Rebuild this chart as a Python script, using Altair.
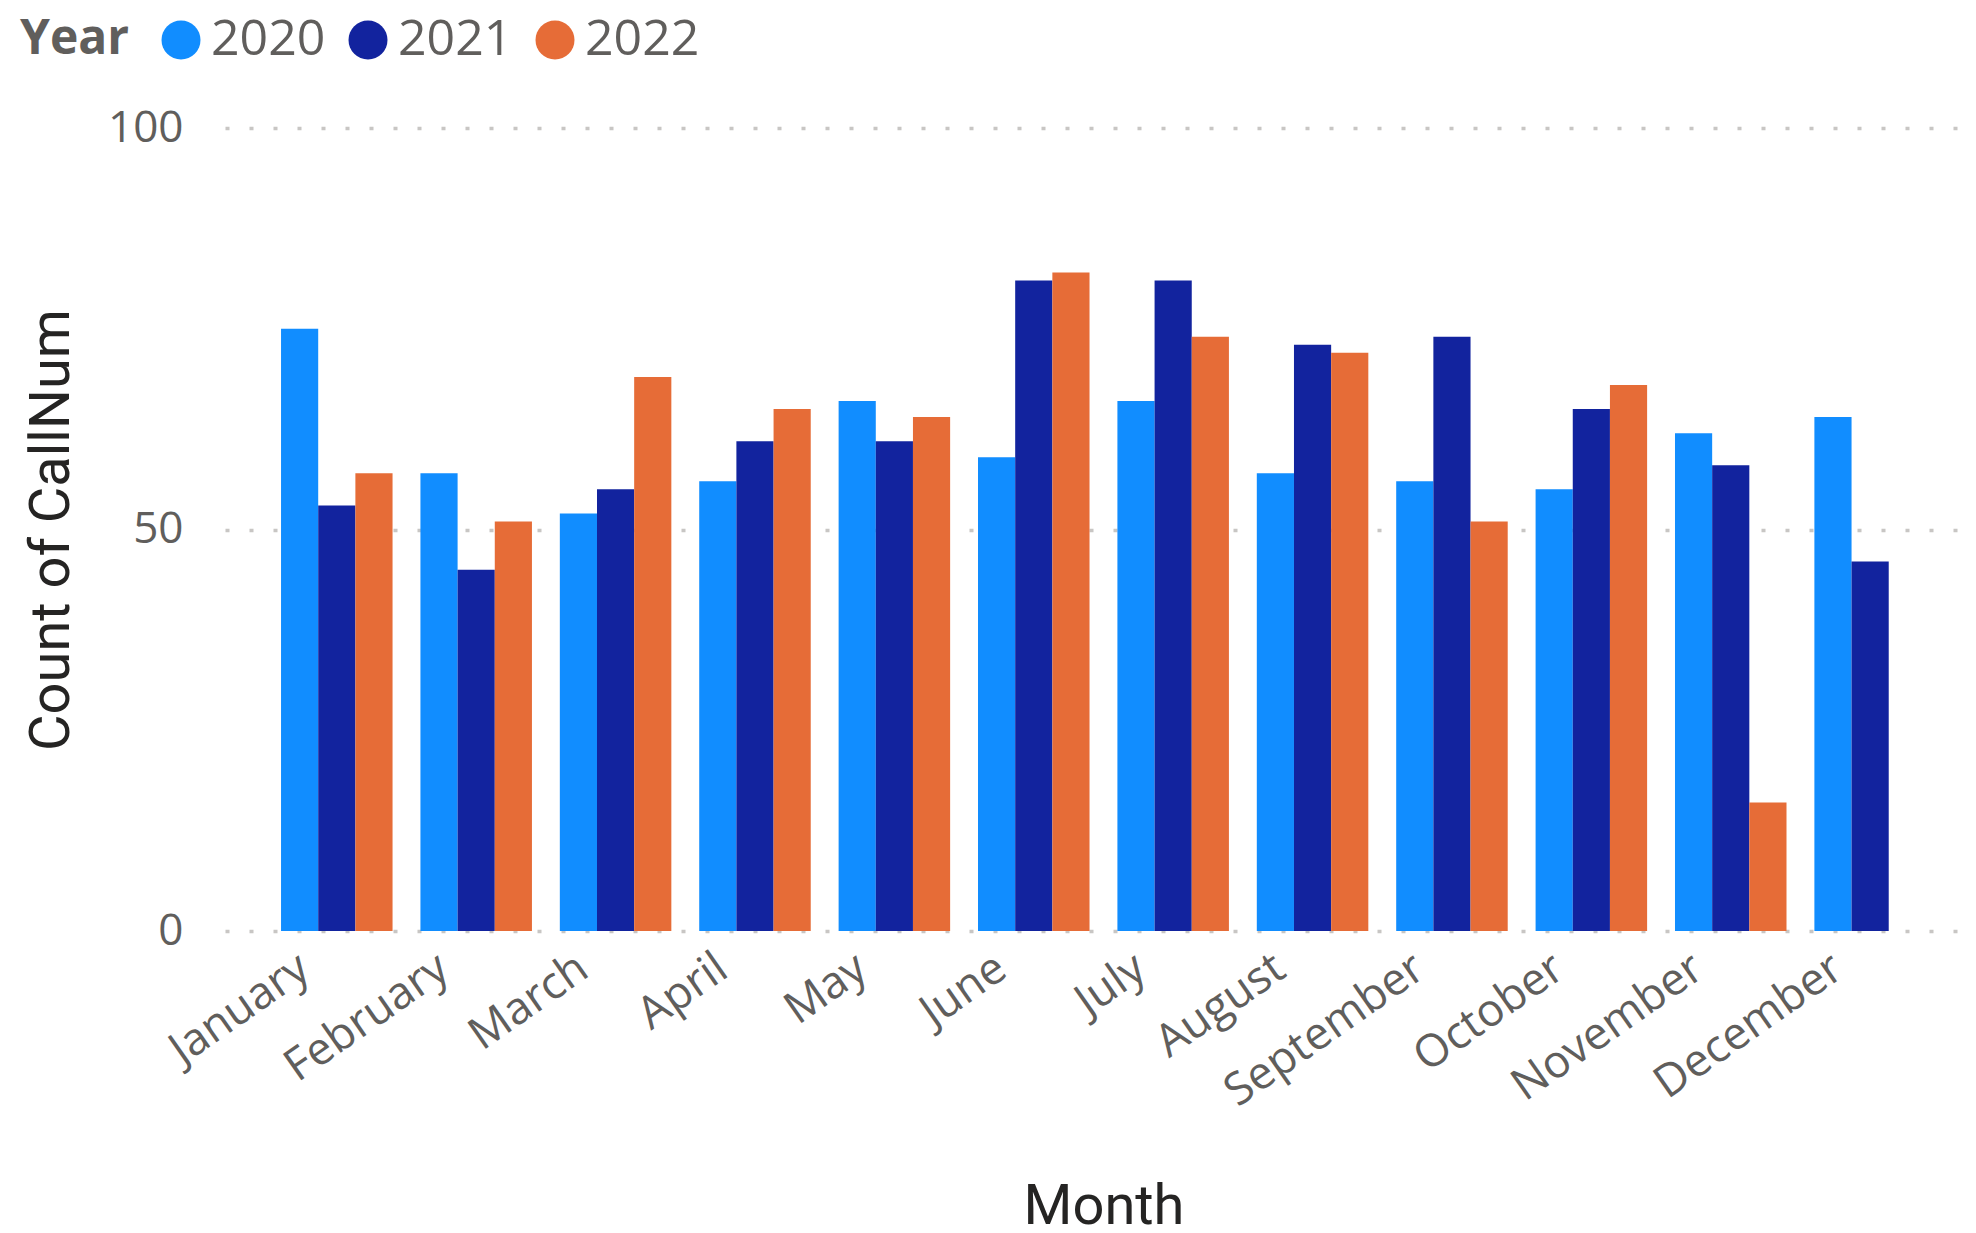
import altair as alt
import pandas as pd

months = ["January", "February", "March", "April", "May", "June", "July",
          "August", "September", "October", "November", "December"]
years = ["2020", "2021", "2022"]
counts_2020 = [75, 57, 52, 56, 66, 59, 66, 57, 56, 55, 62, 64]
counts_2021 = [53, 45, 55, 61, 61, 81, 81, 73, 74, 65, 58, 46]
counts_2022 = [57, 51, 69, 65, 64, 82, 74, 72, 51, 68, 16, None]
colors = ["#118DFF", "#12239E", "#E66C37"]

rows = []
for yr, series in zip(years, [counts_2020, counts_2021, counts_2022]):
    for m, v in zip(months, series):
        if v is not None:
            rows.append({"Month": m, "Year": yr, "Count": v})
df = pd.DataFrame(rows)

W, H = 1743, 803

chart = alt.Chart(df).mark_bar().encode(
    x=alt.X("Month:N", sort=months,
            scale=alt.Scale(paddingInner=0.2, paddingOuter=0.352, align=0.571),
            axis=alt.Axis(title="Month", labelAngle=-35, labelFontSize=45,
                          labelColor="#605E5C", labelFont="Open Sans",
                          labelPadding=14, labelOffset=-45, labelLimit=0,
                          domain=False, ticks=False, grid=False,
                          titleFont="Roboto", titleFontSize=56, titleColor="#252423",
                          titleFontWeight="normal", titleY=292, titleX=W / 2 + 7,
                          titleBaseline="alphabetic")),
    xOffset=alt.XOffset("Year:N", sort=years),
    y=alt.Y("Count:Q", scale=alt.Scale(domain=[0, 100]),
            axis=alt.Axis(title="Count of CallNum", values=[0, 50, 100],
                          labelFontSize=44, labelColor="#605E5C", labelFont="Open Sans",
                          labelPadding=42, domain=False, ticks=False,
                          grid=True, gridColor="#C8C6C4", gridDash=[4, 20],
                          gridWidth=3.5,
                          titleFont="Roboto", titleFontSize=56, titleColor="#252423",
                          titleFontWeight="normal", titleX=-157, titleY=H / 2,
                          titleBaseline="alphabetic")),
    color=alt.Color("Year:N", scale=alt.Scale(domain=years, range=colors),
                    legend=alt.Legend(orient="none", legendX=-205, legendY=-113,
                                      direction="horizontal", title="Year",
                                      titleOrient="left", titleFontSize=48,
                                      titleFont="Open Sans", titleFontWeight="bold",
                                      titleColor="#605E5C", titlePadding=26,
                                      labelFontSize=50, labelFont="Open Sans",
                                      labelColor="#605E5C", labelOffset=5,
                                      columnPadding=17, symbolType="circle",
                                      symbolSize=1521, symbolStrokeWidth=0,
                                      symbolOpacity=1, padding=0)),
).properties(
    width=W, height=H,
    autosize="none",
    padding={"left": 217, "top": 120, "right": 0, "bottom": 296},
).configure_view(stroke=None)

chart.save("out.html", embed_options={"renderer": "svg", "actions": False})
